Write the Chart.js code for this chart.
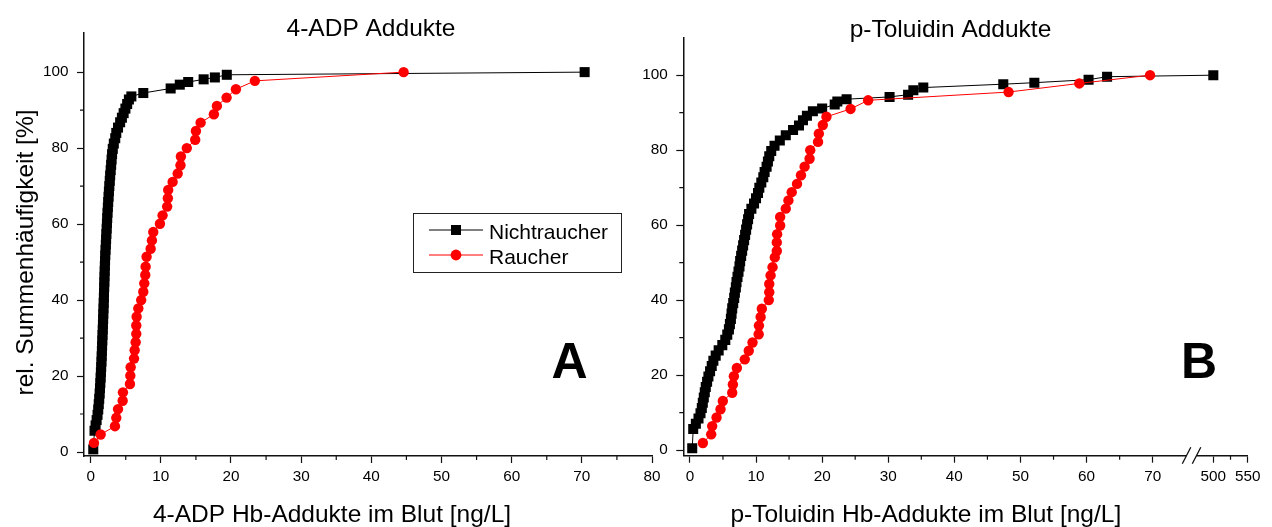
<!DOCTYPE html>
<html>
<head>
<meta charset="utf-8">
<script src="https://cdn.jsdelivr.net/npm/chart.js@4.4.1/dist/chart.umd.min.js"></script>
<style>
  html, body { margin: 0; padding: 0; background: #fff; }
  #wrap { position: relative; width: 1272px; height: 527px; overflow: hidden; }
  .panel { position: absolute; top: 0; }
  #panelA { left: 0; }
  #panelB { left: 620px; }
</style>
</head>
<body>
<div id="wrap">
  <div class="panel" id="panelA"><canvas id="chartA" width="670" height="527"></canvas></div>
  <div class="panel" id="panelB"><canvas id="chartB" width="652" height="527"></canvas></div>
</div>
<script>
// --- data ---
const seriesNames = ['Nichtraucher', 'Raucher'];
const panelTitles = ['4-ADP Addukte', 'p-Toluidin Addukte'];
const xAxisTitles = ['4-ADP Hb-Addukte im Blut [ng/L]', 'p-Toluidin Hb-Addukte im Blut [ng/L]'];
const yAxisTitle = 'rel. Summenhäufigkeit [%]';
const panelLetters = ['A', 'B'];

// 4-ADP, Nichtraucher
const adpNonX = [0.37, 0.55, 0.7, 0.85, 0.98, 1.08, 1.15, 1.22, 1.28, 1.33, 1.38, 1.42, 1.46, 1.5, 1.54, 1.57, 1.6, 1.63, 1.66, 1.69, 1.72,
  1.75, 1.78, 1.8, 1.83, 1.86, 1.88, 1.9, 1.93, 1.95, 1.97, 2.0, 2.02, 2.05, 2.08, 2.12, 2.16, 2.2, 2.24, 2.28, 2.32, 2.36, 2.4,
  2.45, 2.5, 2.55, 2.6, 2.66, 2.72, 2.78, 2.85, 2.92, 2.98, 3.05, 3.15, 3.3, 3.5, 3.65, 3.9, 4.2, 4.45, 4.7, 4.95, 5.2, 5.45,
  5.8, 7.5, 11.4, 12.7, 13.9, 16.1, 17.7, 19.4, 70.4];
const adpNonY = [0.7, 5.6, 7.0, 8.4, 9.8, 11.2, 12.6, 14.0, 15.4, 16.8, 18.2, 19.6, 21.0, 22.4, 23.8, 25.2, 26.6, 28.0, 29.4, 30.8, 32.2,
  33.6, 35.0, 36.4, 37.8, 39.2, 40.6, 42.0, 43.4, 44.8, 46.2, 47.6, 49.0, 50.4, 51.8, 53.2, 54.6, 56.0, 57.4, 58.8, 60.2, 61.6, 63.0,
  64.4, 65.8, 67.2, 68.6, 70.0, 71.4, 72.8, 74.2, 75.6, 77.0, 78.4, 79.8, 81.2, 82.6, 84.0, 85.4, 86.8, 88.0, 89.2, 90.4, 91.6, 92.8,
  93.6, 94.5, 95.7, 96.7, 97.4, 98.1, 98.6, 99.3, 100];

// 4-ADP, Raucher
const adpSmkX = [0.47, 1.42, 3.46, 3.65, 3.9, 4.56, 4.6, 5.6, 5.65, 5.7, 6.18, 6.27, 6.41, 6.5, 6.5, 6.55, 6.79, 7.2, 7.5, 7.64, 7.78,
  7.83, 7.97, 8.55, 8.73, 8.92, 9.87, 10.25, 10.9, 11.0, 11.05, 11.68, 12.4, 12.8, 12.86, 13.7, 14.9, 15.0, 15.67, 17.56, 17.99,
  19.37, 20.7, 23.4, 44.6];
const adpSmkY = [2.4, 4.6, 6.8, 9.0, 11.3, 13.5, 15.7, 17.9, 20.1, 22.3, 24.6, 26.8, 28.9, 31.1, 33.3, 35.6, 37.8, 40.0, 42.2, 44.4, 46.6,
  48.8, 51.4, 53.5, 55.7, 57.9, 60.1, 62.3, 64.6, 66.8, 69.0, 71.1, 73.3, 75.5, 77.8, 80.0, 82.2, 84.5, 86.7, 88.9, 91.1,
  93.3, 95.5, 97.7, 100];

// p-Toluidin, Nichtraucher
const toluNonX = [0.35, 0.5, 0.9, 1.3, 1.6, 1.8, 1.95, 2.1, 2.25, 2.4, 2.6, 2.8, 3.05, 3.3, 3.55, 3.9, 4.35, 4.9, 5.35, 5.65, 5.9,
  6.05, 6.2, 6.3, 6.4, 6.55, 6.7, 6.8, 6.95, 7.05, 7.2, 7.35, 7.5, 7.6, 7.75, 7.9, 8.05, 8.2, 8.35, 8.5, 8.65, 8.8, 8.95,
  9.3, 9.7, 10.0, 10.3, 10.5, 10.8, 11.1, 11.3, 11.6, 11.8, 12.0, 12.3, 12.8, 13.6, 14.5, 15.6, 16.5, 17.1, 17.7, 18.6,
  20.0, 21.9, 22.3, 23.7, 30.2, 33.0, 33.8, 35.3, 47.4, 52.1, 60.3, 63.1, 500];
const toluNonY = [0.5, 5.6, 7.0, 8.4, 9.8, 11.2, 12.6, 14.0, 15.4, 16.8, 18.2, 19.6, 21.0, 22.4, 23.8, 25.2, 26.6, 28.0, 29.4, 30.8, 32.2,
  33.6, 35.0, 36.4, 37.8, 39.2, 40.6, 42.0, 43.4, 44.8, 46.2, 47.6, 49.0, 50.4, 51.8, 53.2, 54.6, 56.0, 57.4, 58.8, 60.2, 61.6, 63.0,
  64.4, 65.8, 67.2, 68.6, 70.0, 71.4, 72.8, 74.2, 75.6, 77.0, 78.4, 79.8, 81.2, 82.6, 84.0, 85.4, 86.6, 88.0, 89.2, 90.4,
  91.1, 92.2, 93.0, 93.6, 94.2, 94.8, 96.0, 96.7, 97.6, 98.0, 98.8, 99.6, 100];

// p-Toluidin, Raucher
const toluSmkX = [1.96, 3.22, 3.37, 4.03, 4.63, 4.98, 6.4, 6.5, 6.65, 7.1, 8.3, 8.9, 9.47, 10.4, 10.44, 10.7, 10.88, 11.93, 12.0, 12.0,
  12.2, 12.5, 12.84, 13.14, 13.14, 13.19, 13.65, 13.65, 14.5, 14.9, 15.4, 16.2, 16.8, 17.35, 18.1, 18.2, 19.38, 19.5, 20.1,
  20.65, 24.3, 26.96, 48.2, 58.9, 69.6];
const toluSmkY = [1.9, 4.2, 6.4, 8.7, 10.9, 13.1, 15.3, 17.5, 19.7, 21.9, 24.2, 26.5, 28.7, 30.9, 33.2, 35.5, 37.7, 40.0, 42.1, 44.3,
  46.6, 48.8, 51.4, 53.1, 55.4, 57.6, 59.9, 62.2, 64.4, 66.6, 68.8, 71.0, 73.3, 75.6, 77.7, 80.0, 82.2, 84.4, 86.7,
  88.9, 91.0, 93.3, 95.5, 97.8, 100];

// axis ticks
const yTicks = [0, 20, 40, 60, 80, 100];
const yMinorTicks = [10, 30, 50, 70, 90];
const adpXTicks = [0, 10, 20, 30, 40, 50, 60, 70, 80];
const adpXMinorTicks = [5, 15, 25, 35, 45, 55, 65, 75];
const toluXTicks = [0, 10, 20, 30, 40, 50, 60, 70, 500, 550];
const toluXMinorTicks = [5, 15, 25, 35, 45, 55, 65, 525];

// broken x axis of panel B: 0..75 linear, then 476..550 compressed
const BREAK_AT = 75;
const RESUME_AT = 500;
const RESUME_POS = 79.17;
const TAIL_SCALE = 0.104;
const TAIL_START = 476;
const brk = v => v <= BREAK_AT ? v : RESUME_POS + (v - RESUME_AT) * TAIL_SCALE;

const FONT = '"Liberation Sans", Arial, Helvetica, sans-serif';
const AXIS = '#111';

function toPoints(xs, ys, mapX) {
  return xs.map((v, i) => ({ x: mapX ? mapX(v) : v, y: ys[i] }));
}

function nonSmokerSet(points) {
  return {
    label: seriesNames[0], data: points, order: 1,
    borderColor: '#000', backgroundColor: '#000', borderWidth: 1,
    pointStyle: 'rect', pointRadius: 7.1, pointBorderWidth: 0, pointBackgroundColor: '#000'
  };
}
function smokerSet(points) {
  return {
    label: seriesNames[1], data: points, order: 0,
    borderColor: '#ff0000', backgroundColor: '#ff0000', borderWidth: 1,
    pointStyle: 'circle', pointRadius: 5.2, pointBorderWidth: 0, pointBackgroundColor: '#ff0000'
  };
}

// short ticks in between the labelled ones
const minorTicks = {
  id: 'minorTicks',
  afterDraw(chart, args, o) {
    const { ctx, scales: { x, y } } = chart;
    ctx.save();
    ctx.strokeStyle = AXIS;
    ctx.lineWidth = 1.2;
    ctx.beginPath();
    o.x.forEach(v => {
      const px = x.getPixelForValue(v);
      ctx.moveTo(px, x.top); ctx.lineTo(px, x.top + 4);
    });
    o.y.forEach(v => {
      const py = y.getPixelForValue(v);
      ctx.moveTo(y.right, py); ctx.lineTo(y.right - 4, py);
    });
    ctx.stroke();
    ctx.restore();
  }
};

// titles, axis titles and the panel letter
const panelText = {
  id: 'panelText',
  afterDraw(chart, args, o) {
    const ctx = chart.ctx;
    ctx.save();
    ctx.fillStyle = '#000';
    ctx.textAlign = 'center';
    ctx.textBaseline = 'alphabetic';
    ctx.font = '24.5px ' + FONT;
    ctx.fillText(o.title, o.titleX, o.titleY);
    ctx.fillText(o.xTitle, o.xTitleX, o.xTitleY);
    ctx.font = 'bold 50px ' + FONT;
    ctx.fillText(o.letter, o.letterX, o.letterY);
    if (o.yTitle) {
      ctx.font = '24.5px ' + FONT;
      ctx.translate(o.yTitleX, o.yTitleY);
      ctx.rotate(-Math.PI / 2);
      ctx.fillText(o.yTitle, 0, 0);
    }
    ctx.restore();
  }
};

// boxed legend inside panel A
const legendBox = {
  id: 'legendBox',
  afterDraw(chart, args, o) {
    const ctx = chart.ctx;
    ctx.save();
    ctx.strokeStyle = '#222';
    ctx.lineWidth = 1;
    ctx.strokeRect(o.left + 0.5, o.top + 0.5, o.width, o.height);
    ctx.font = '21px ' + FONT;
    ctx.textAlign = 'left';
    ctx.textBaseline = 'alphabetic';
    chart.data.datasets.forEach((ds, i) => {
      const cy = o.top + o.rowStart + i * o.rowGap;
      const mx = (o.lineFrom + o.lineTo) / 2;
      ctx.strokeStyle = ds.borderColor;
      ctx.beginPath();
      ctx.moveTo(o.lineFrom, cy); ctx.lineTo(o.lineTo, cy);
      ctx.stroke();
      ctx.fillStyle = ds.pointBackgroundColor;
      if (ds.pointStyle === 'rect') {
        ctx.fillRect(mx - 5, cy - 5, 10, 10);
      } else {
        ctx.beginPath(); ctx.arc(mx, cy, 5.4, 0, Math.PI * 2); ctx.fill();
      }
      ctx.fillStyle = '#000';
      ctx.fillText(ds.label, o.textX, cy + 9);
    });
    ctx.restore();
  }
};

// "//" marks where the x axis of panel B is broken
const axisBreak = {
  id: 'axisBreak',
  afterDraw(chart, args, o) {
    const { ctx, scales: { x } } = chart;
    const mid = (x.getPixelForValue(o.from) + x.getPixelForValue(o.to)) / 2;
    const y0 = x.top;
    ctx.save();
    ctx.fillStyle = '#fff';
    ctx.fillRect(mid - 5, y0 - 3, 10, 6);
    ctx.strokeStyle = AXIS;
    ctx.lineWidth = 1.3;
    ctx.beginPath();
    [-5, 5].forEach(d => {
      ctx.moveTo(mid + d - 4, y0 + 8);
      ctx.lineTo(mid + d + 4.5, y0 - 8.5);
    });
    ctx.stroke();
    ctx.restore();
  }
};

function axisStyle(extra) {
  return Object.assign({
    type: 'linear',
    grid: { drawOnChartArea: false, drawTicks: true, tickLength: 7, tickColor: AXIS, tickWidth: 1.2 },
    border: { display: true, color: AXIS, width: 1.5 },
    ticks: { autoSkip: false, maxRotation: 0, color: '#000', font: { family: FONT, size: 15.3 } }
  }, extra);
}

// panel A
new Chart(document.getElementById('chartA'), {
  type: 'line',
  data: {
    datasets: [
      nonSmokerSet(toPoints(adpNonX, adpNonY)),
      smokerSet(toPoints(adpSmkX, adpSmkY))
    ]
  },
  options: {
    responsive: false,
    animation: false,
    events: [],
    layout: { padding: { top: 33, right: 18, bottom: 0, left: 0 } },
    plugins: {
      legend: { display: false },
      tooltip: { enabled: false },
      minorTicks: { x: adpXMinorTicks, y: yMinorTicks },
      panelText: {
        title: panelTitles[0], titleX: 371, titleY: 35.5,
        xTitle: xAxisTitles[0], xTitleX: 332, xTitleY: 521.5,
        letter: panelLetters[0], letterX: 569.5, letterY: 378,
        yTitle: yAxisTitle, yTitleX: 33, yTitleY: 252.5
      },
      legendBox: { left: 413, top: 213, width: 208, height: 59, rowStart: 17, rowGap: 25, lineFrom: 429, lineTo: 483, textX: 489 }
    },
    scales: {
      x: axisStyle({
        min: -0.95, max: 80,
        afterFit(s) { s.height = 71; },
        afterBuildTicks(s) { s.ticks = adpXTicks.map(v => ({ value: v })); },
        ticks: { autoSkip: false, maxRotation: 0, padding: 5, color: '#000', font: { family: FONT, size: 15.3 } }
      }),
      y: axisStyle({
        min: -1.05, max: 110.3,
        afterFit(s) { s.width = 84; },
        afterBuildTicks(s) { s.ticks = yTicks.map(v => ({ value: v })); },
        ticks: { autoSkip: false, padding: 8.5, color: '#000', font: { family: FONT, size: 15.3 } }
      })
    }
  },
  plugins: [minorTicks, panelText, legendBox]
});

// panel B
new Chart(document.getElementById('chartB'), {
  type: 'line',
  data: {
    datasets: [
      nonSmokerSet(toPoints(toluNonX, toluNonY, brk)),
      smokerSet(toPoints(toluSmkX, toluSmkY, brk))
    ]
  },
  options: {
    responsive: false,
    animation: false,
    events: [],
    layout: { padding: { top: 37.7, right: 24.3, bottom: 0, left: 0 } },
    plugins: {
      legend: { display: false },
      tooltip: { enabled: false },
      minorTicks: { x: toluXMinorTicks.map(brk), y: yMinorTicks },
      panelText: {
        title: panelTitles[1], titleX: 330.5, titleY: 37,
        xTitle: xAxisTitles[1], xTitleX: 305.8, xTitleY: 521.5,
        letter: panelLetters[1], letterX: 579, letterY: 378
      },
      axisBreak: { from: BREAK_AT, to: brk(TAIL_START) }
    },
    scales: {
      x: axisStyle({
        min: -1.0, max: brk(550),
        afterFit(s) { s.height = 71.3; },
        afterBuildTicks(s) { s.ticks = toluXTicks.map(v => ({ value: brk(v) })); },
        ticks: {
          autoSkip: false, maxRotation: 0, padding: 5, color: '#000', font: { family: FONT, size: 15.3 },
          callback: (val, i) => String(toluXTicks[i])
        }
      }),
      y: axisStyle({
        min: -1.5, max: 110,
        afterFit(s) { s.width = 63.3; },
        afterBuildTicks(s) { s.ticks = yTicks.map(v => ({ value: v })); },
        ticks: { autoSkip: false, padding: 8.5, color: '#000', font: { family: FONT, size: 15.3 } }
      })
    }
  },
  plugins: [minorTicks, panelText, axisBreak]
});
</script>
</body>
</html>
